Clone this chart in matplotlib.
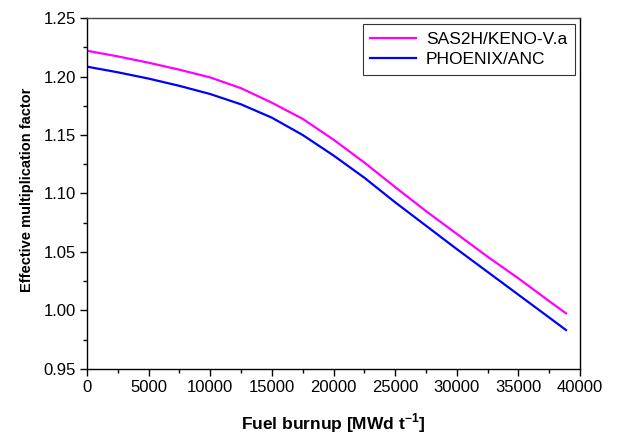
import numpy as np
import matplotlib
matplotlib.use("Agg")
import matplotlib.pyplot as plt
from matplotlib.ticker import MultipleLocator, FormatStrFormatter

plt.rcParams["font.family"] = ["Liberation Sans", "DejaVu Sans"]
plt.rcParams["mathtext.fontset"] = "custom"
plt.rcParams["mathtext.rm"] = "Liberation Sans"
plt.rcParams["mathtext.bf"] = "Liberation Sans:bold"

# burnup points (MWd/t)
burnup = [0, 2500, 5000, 7500, 10000, 12500, 15000, 17500, 20000,
          22500, 25000, 27500, 30000, 32500, 35000, 37500, 38864]
# SAS2H/KENO-V.a
k_sas = [1.2220, 1.2172, 1.2118, 1.2058, 1.1992, 1.1900, 1.1776, 1.1638, 1.1460,
         1.1265, 1.1055, 1.0850, 1.0655, 1.0460, 1.0275, 1.0080, 0.9976]
# PHOENIX/ANC
k_phx = [1.2084, 1.2036, 1.1982, 1.1920, 1.1850, 1.1762, 1.1648, 1.1500, 1.1325,
         1.1135, 1.0925, 1.0725, 1.0525, 1.0330, 1.0135, 0.9940, 0.9833]

fig = plt.figure(figsize=(6.18, 4.36), dpi=100)
ax = fig.add_axes([0.1408, 0.1537, 0.7977, 0.805])

ax.plot(burnup, k_sas, color="#FF00FF", lw=1.6, label="SAS2H/KENO-V.a")
ax.plot(burnup, k_phx, color="#0000FF", lw=1.6, label="PHOENIX/ANC")

ax.set_xlim(0, 40000)
ax.set_ylim(0.95, 1.25)
ax.xaxis.set_major_locator(MultipleLocator(5000))
ax.xaxis.set_minor_locator(MultipleLocator(2500))
ax.yaxis.set_major_locator(MultipleLocator(0.05))
ax.yaxis.set_minor_locator(MultipleLocator(0.025))
ax.yaxis.set_major_formatter(FormatStrFormatter("%.2f"))

ax.tick_params(which="both", direction="out", top=False, right=False,
               labelsize=12, width=1, color="black")
ax.tick_params(which="major", length=5, pad=3)
ax.tick_params(which="minor", length=3)
for s in ax.spines.values():
    s.set_linewidth(1)
    s.set_color("black")
ax.spines["top"].set_color("#444444")

ax.set_xlabel(r"Fuel burnup [MWd t$^{\mathbf{-1}}$]", fontsize=12.5,
              fontweight="bold", labelpad=12)
ax.set_ylabel("Effective multiplication factor", fontsize=10.5,
              fontweight="bold")
ax.yaxis.set_label_coords(-0.108, 0.51)

leg = ax.legend(loc="upper right", fontsize=12.5, frameon=True, fancybox=False,
                edgecolor="black", handlelength=2.6, handletextpad=0.6,
                borderpad=0.45, labelspacing=0.3, borderaxespad=0,
                bbox_to_anchor=(0.99, 0.983))
leg.get_frame().set_linewidth(0.8)

fig.savefig("out.png", dpi=100)
